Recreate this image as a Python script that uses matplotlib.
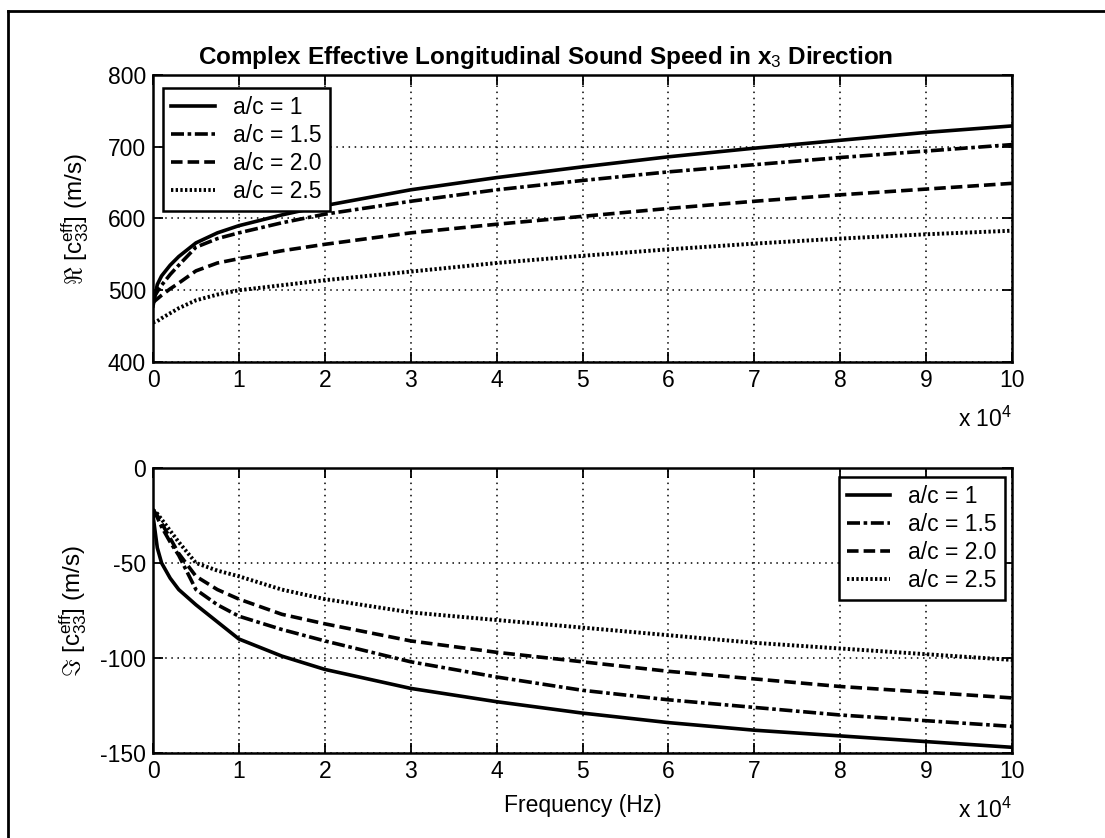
import matplotlib
matplotlib.use("Agg")
import matplotlib.pyplot as plt
from matplotlib.lines import Line2D

plt.rcParams['font.family'] = ['Liberation Sans', 'DejaVu Sans']
plt.rcParams['mathtext.fontset'] = 'custom'
plt.rcParams['mathtext.rm'] = 'Liberation Sans'
plt.rcParams['mathtext.it'] = 'Liberation Sans:italic'
plt.rcParams['mathtext.bf'] = 'Liberation Sans:bold'
plt.rcParams['axes.unicode_minus'] = False

# frequency in units of 1e4 Hz
freq = [0, 0.05, 0.1, 0.2, 0.3, 0.5, 0.75, 1, 1.5, 2, 3, 4, 5, 6, 7, 8, 9, 10]
labels = ['a/c = 1', 'a/c = 1.5', 'a/c = 2.0', 'a/c = 2.5']

re_ac1 = [478, 508, 520, 535, 547, 566, 580, 590, 605, 618, 640, 657, 672, 686, 698, 709, 720, 729]
re_ac15 = [488, 498, 507, 522, 535, 560, 572, 580, 594, 606, 624, 640, 653, 665, 675, 685, 694, 703]
re_ac20 = [483, 488, 493, 502, 510, 527, 538, 544, 555, 564, 580, 592, 603, 614, 624, 633, 641, 649]
re_ac25 = [455, 457, 461, 468, 475, 486, 494, 500, 507, 514, 526, 538, 548, 557, 565, 572, 578, 583]

im_ac1 = [-25, -42, -50, -58, -64, -72, -81, -90, -99, -106, -116, -123, -129, -134, -138, -141, -144, -147]
im_ac15 = [-22, -26, -31, -39, -46, -64, -72, -78, -85, -91, -102, -110, -117, -122, -126, -130, -133, -136]
im_ac20 = [-22, -25, -29, -37, -45, -57, -64, -69, -77, -82, -91, -97, -102, -107, -111, -115, -118, -121]
im_ac25 = [-22, -24, -27, -33, -39, -50, -54, -57, -64, -69, -76, -80, -84, -88, -92, -95, -98, -101]

xticks = list(range(0, 11))
re_yticks = [400, 500, 600, 700, 800]
im_yticks = [0, -50, -100, -150]

styles = [
    dict(linestyle='-', linewidth=2.6),
    dict(linestyle=(0, (3.6, 1.0, 1.0, 1.0)), linewidth=2.6),
    dict(linestyle=(0, (3.2, 1.4)), linewidth=2.6),
    dict(linestyle=(0, (0.6, 0.6)), linewidth=2.8),
]

fig = plt.figure(figsize=(11.05, 8.38), dpi=100)
fs = 16.5

ax1 = fig.add_axes([153/1105, 1 - 362/838, 859/1105, 287/838])
ax2 = fig.add_axes([153/1105, 1 - 753/838, 859/1105, 285/838])

for ax, series, yt, ylim in [
    (ax1, [re_ac1, re_ac15, re_ac20, re_ac25], re_yticks, (400, 800)),
    (ax2, [im_ac1, im_ac15, im_ac20, im_ac25], im_yticks, (-150, 0)),
]:
    for s, st, lab in zip(series, styles, labels):
        ax.plot(freq, s, color='black', label=lab, **st)
    ax.set_xlim(0, 10)
    ax.set_ylim(*ylim)
    ax.set_xticks(xticks)
    ax.set_yticks(yt)
    ax.grid(True, color='black', linestyle=(0, (1, 3)), linewidth=1.1)
    ax.tick_params(direction='in', length=7, width=1.3, top=True, right=True,
                   labelsize=fs, pad=5, colors='black')
    for sp in ax.spines.values():
        sp.set_linewidth(1.8)
    ax.text(1.0, -0.2, r'x 10$^4$', transform=ax.transAxes, ha='right', va='center',
            fontsize=fs)

ax1.set_title(r'Complex Effective Longitudinal Sound Speed in x$_3$ Direction',
              fontsize=17.5, fontweight='bold', pad=8, x=0.457)
ax1.set_ylabel(r'$\Re$ [c$_{33}^{\rm eff}$] (m/s)', fontsize=17.5, labelpad=12)
ax2.set_ylabel(r'$\Im$ [c$_{33}^{\rm eff}$] (m/s)', fontsize=17.5, labelpad=8)
ax2.set_xlabel('Frequency (Hz)', fontsize=fs, labelpad=8)

leg_kw = dict(fontsize=fs, frameon=True, fancybox=False, edgecolor='black',
              framealpha=1.0, handlelength=1.9, handletextpad=0.8, borderpad=0.35,
              labelspacing=0.22, borderaxespad=0.0)
l1 = ax1.legend(loc='upper left', bbox_to_anchor=(0.0116, 0.955), **leg_kw)
l2 = ax2.legend(loc='upper right', bbox_to_anchor=(0.992, 0.968), **leg_kw)
for l in (l1, l2):
    l.get_frame().set_linewidth(1.8)

# outer frame lines
fig.add_artist(Line2D([8/1105, 8/1105], [0, 1 - 11/838], color='black', lw=2.0,
                      transform=fig.transFigure))
fig.add_artist(Line2D([8/1105, 1], [1 - 11/838, 1 - 11/838], color='black', lw=2.0,
                      transform=fig.transFigure))

fig.savefig('out.png', dpi=100)
